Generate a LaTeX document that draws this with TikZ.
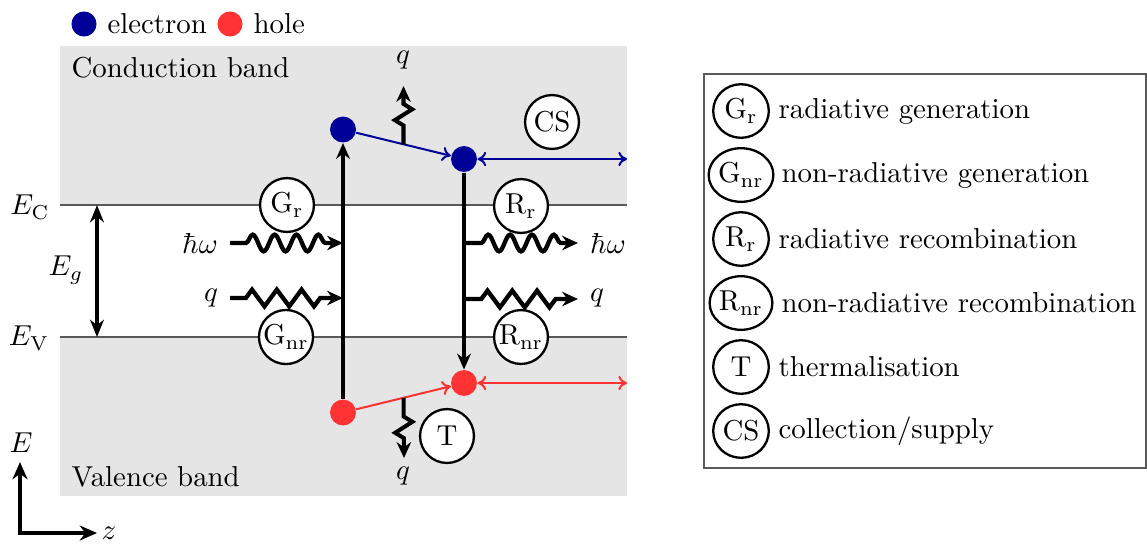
\documentclass[tikz,border=0pt]{standalone}
\usetikzlibrary{arrows.meta,decorations.pathmorphing,shapes.geometric,calc}
\definecolor{elec}{RGB}{0,0,153}
\definecolor{holec}{RGB}{255,51,51}
\definecolor{bandc}{RGB}{229,229,229}
\begin{document}
\begin{tikzpicture}[x=0.347pt,y=-0.347pt,
  dot/.style={circle,inner sep=0pt,minimum size=9pt},
  proc/.style={circle,draw,line width=0.8pt,fill=white,inner sep=0.3pt,minimum size=18.7pt},
  leg/.style={ellipse,draw,line width=0.8pt,fill=white,inner sep=0pt,minimum width=19.3pt,minimum height=18.6pt},
  txt/.style={inner sep=0pt},
  mainarr/.style={line width=1.15pt,-{Stealth[length=5.5pt,width=4.8pt]}},
  photon/.style={line width=1.5pt,-{Stealth[length=5.5pt,width=5pt]},decorate,
    decoration={snake,segment length=7.6pt,amplitude=2.9pt,pre length=5.5pt,post length=6pt}},
  phonon/.style={line width=1.5pt,-{Stealth[length=5.5pt,width=5pt]},decorate,
    decoration={zigzag,segment length=8.6pt,amplitude=2.9pt,pre length=5.5pt,post length=6pt}},
  thermal/.style={line width=1.4pt,-{Stealth[length=5.5pt,width=5pt]},decorate,
    decoration={zigzag,segment length=7.5pt,amplitude=3pt,pre length=6.5pt,post length=6pt}},
  carr/.style={line width=0.7pt,-{To[length=3pt,width=5pt]}},
  cdarr/.style={line width=0.7pt,{To[length=3pt,width=5pt]}-{To[length=3pt,width=5pt]}},
  bandline/.style={line width=0.45pt,draw=black!65}
]
\useasboundingbox (0,0) rectangle (1147,543);
% bands
\fill[bandc] (60,46) rectangle (627,205);
\fill[bandc] (60,337) rectangle (627,496);
\draw[bandline] (60,205) -- (627,205);
\draw[bandline] (60,337) -- (627,337);
\node[txt,anchor=base west] (cb) at (71,77) {Conduction band};
\node[txt,anchor=base west] (vb) at (71,486) {Valence band};
\node (EC) at (30,207) {$E_\mathrm{C}$};
\node (EV) at (29,338) {$E_\mathrm{V}$};
\node (Eg) at (66,270) {$E_g$};
\coordinate (gT) at (97,205);
\coordinate (gB) at (97,337);
\draw[line width=1.15pt,{Stealth[length=6pt,width=4.8pt]}-{Stealth[length=6pt,width=4.8pt]}] (gT) -- (gB);
% legend top
\node[dot,fill=elec,minimum size=8.7pt] (le) at (84,24) {};
\node[txt,anchor=base west] (lte) at (107,33) {electron};
\node[dot,fill=holec,minimum size=8.7pt] (lh) at (230,24) {};
\node[txt,anchor=base west] (lth) at (253,33) {hole};
% axes
\coordinate (O) at (20,533);
\coordinate (Etip) at (20,462);
\coordinate (ztip) at (97,533);
\draw[line width=1.5pt,{Stealth[length=6pt,width=5.2pt]}-{Stealth[length=6pt,width=5.2pt]}] (Etip) |- (ztip);
\node (Elab) at (21,443) {$E$};
\node (zlab) at (109,533) {$z$};
% carriers
\node[dot,fill=elec] (e1) at (343,129.5) {};
\node[dot,fill=elec] (e2) at (464,159) {};
\node[dot,fill=holec] (h1) at (343,412.5) {};
\node[dot,fill=holec] (h2) at (464,383) {};
\draw[mainarr] (h1) -- (e1);
\draw[mainarr] (e2) -- (h2);
\draw[carr,elec] (e1) -- (e2);
\draw[carr,holec] (h1) -- (h2);
\coordinate (cse) at (627,159);
\coordinate (csh) at (627,383);
\draw[cdarr,elec] (e2) -- (cse);
\draw[cdarr,holec] (h2) -- (csh);
% thermalisation
\coordinate (tq1) at ($(e1)!0.5!(e2)$);
\coordinate (tq2) at ($(h1)!0.5!(h2)$);
\coordinate (qt) at (403.5,86);
\coordinate (qb) at (404,458);
\draw[thermal] (tq1) -- (qt);
\draw[thermal] (tq2) -- (qb);
\node (qtl) at (403,60) {$q$};
\node (qbl) at (403,476) {$q$};
% generation
\coordinate (gw) at (230,243);
\coordinate (gq) at (230,298);
\draw[photon] (gw) -- (gw -| e1);
\draw[phonon] (gq) -- (gq -| e1);
\node (hwL) at (200,243) {$\hbar\omega$};
\node (qL) at (211,298) {$q$};
% recombination
\coordinate (rw) at (578,243);
\coordinate (rq) at (578,299);
\draw[photon,decoration={pre length=6pt}] (rw -| e2) -- (rw);
\draw[phonon,decoration={pre length=6pt}] (rq -| e2) -- (rq);
\node (hwR) at (608,243) {$\hbar\omega$};
\node (qR) at (597,298) {$q$};
% process labels
\node[proc] (Gr) at (287,205) {$\mathrm{G_r}$};
\node[proc] (Gnr) at (286,337) {$\mathrm{G_{nr}}$};
\node[proc] (Rr) at (521,206) {$\mathrm{R_r}$};
\node[proc] (Rnr) at (521,337) {$\mathrm{R_{nr}}$};
\node[proc] (CS) at (552,122) {CS};
\node[proc] (T) at (447,436) {T};
% legend box
\draw[line width=0.55pt,draw=black!65] (704,74) rectangle (1146,468);
\node[leg] (lGr) at (741,111) {$\mathrm{G_r}$};
\node[leg] (lGnr) at (741,175) {$\mathrm{G_{nr}}$};
\node[leg] (lRr) at (741,239) {$\mathrm{R_r}$};
\node[leg] (lRnr) at (741,303) {$\mathrm{R_{nr}}$};
\node[leg] (lT) at (741,367) {T};
\node[leg] (lCS) at (741,431) {CS};
\node[txt,anchor=west] (tGr) at (778,111) {radiative generation};
\node[txt,anchor=west] (tGnr) at (781,175) {non-radiative generation};
\node[txt,anchor=west] (tRr) at (778,239) {radiative recombination};
\node[txt,anchor=west] (tRnr) at (781,303) {non-radiative recombination};
\node[txt,anchor=west] (tT) at (778,367) {thermalisation};
\node[txt,anchor=west] (tCS) at (778,431) {collection/supply};
\end{tikzpicture}
\end{document}
